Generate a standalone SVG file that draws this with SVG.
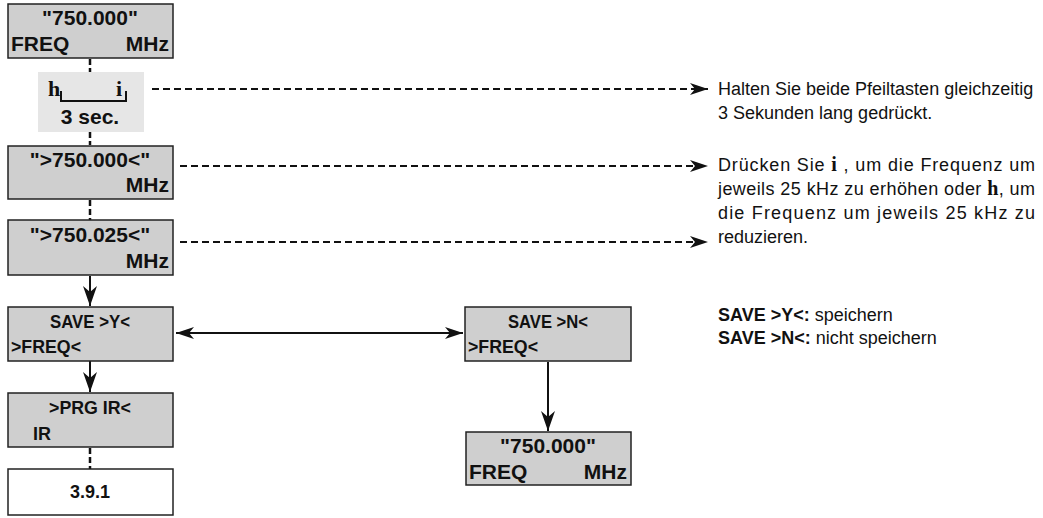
<svg xmlns="http://www.w3.org/2000/svg" width="1043" height="518" viewBox="0 0 1043 518">
<style>
.b{fill:#cfcfcf;stroke:#222;stroke-width:1.5}
.t{font-family:"Liberation Sans",Arial,sans-serif;font-weight:bold;font-size:21px;fill:#111}
.c{font-family:"Liberation Sans",Arial,sans-serif;font-weight:bold;font-size:18px;fill:#111}
.n{font-family:"Liberation Sans",Arial,sans-serif;font-size:18px;fill:#111}
.d{stroke:#111;stroke-width:2;stroke-dasharray:7,4;fill:none}
.v{stroke:#111;stroke-width:2.5;stroke-dasharray:6,3;fill:none}
.s{stroke:#111;stroke-width:2;fill:none}
</style>
<defs>
<marker id="A" markerWidth="18" markerHeight="12" refX="18" refY="6" orient="auto-start-reverse" markerUnits="userSpaceOnUse" viewBox="0 0 18 12"><path d="M0,0L18,6L0,12L5,6z" fill="#111"/></marker>
<marker id="V" markerWidth="14" markerHeight="20" refX="7" refY="20" orient="0" markerUnits="userSpaceOnUse" viewBox="0 0 14 20"><path d="M0,0L7,20L14,0L7,6z" fill="#111"/></marker></defs>
<g id="connectors">
<path class="v" d="M90,59V72M90,132V145M90,200V220M90,448V469"/>
<path class="s" d="M90,276V306" marker-end="url(#V)"/>
<path class="s" d="M90,361V392" marker-end="url(#V)"/>
<path class="s" d="M548,362V431" marker-end="url(#V)"/>
<path class="s" d="M176,333H463" marker-start="url(#A)" marker-end="url(#A)"/>
<path class="d" d="M152,89H708" marker-end="url(#A)"/>
<path class="d" d="M180,166H708" marker-end="url(#A)"/>
<path class="d" d="M180,242H708" marker-end="url(#A)"/>
</g>
<g id="n1"><rect class="b" x="8" y="4" width="165" height="54"/><text class="t" x="90" y="25" text-anchor="middle">"750.000"</text><text class="t" x="11" y="51">FREQ</text><text class="t" x="169" y="51" text-anchor="end">MHz</text></g>
<g id="key"><rect x="38" y="72" width="106" height="60" fill="#e6e6e6"/><text x="48" y="96" font-family="Liberation Serif,serif" font-weight="bold" font-size="22" fill="#111">h</text><text x="116" y="96" font-family="Liberation Serif,serif" font-weight="bold" font-size="22" fill="#111">i</text><path class="s" d="M61,91V101H126V91"/><text class="t" x="90" y="124" text-anchor="middle">3 sec.</text></g>
<g id="n3"><rect class="b" x="8" y="146" width="165" height="53"/><text class="t" x="90" y="167" text-anchor="middle">"&gt;750.000&lt;"</text><text class="t" x="169" y="192" text-anchor="end">MHz</text></g>
<g id="n4"><rect class="b" x="8" y="220" width="165" height="55"/><text class="t" x="90" y="242" text-anchor="middle">"&gt;750.025&lt;"</text><text class="t" x="169" y="268" text-anchor="end">MHz</text></g>
<g id="n5"><rect class="b" x="8" y="307" width="165" height="54"/><text class="c" x="90" y="328" text-anchor="middle" textLength="80" lengthAdjust="spacingAndGlyphs">SAVE &gt;Y&lt;</text><text class="c" x="11" y="353" textLength="70" lengthAdjust="spacingAndGlyphs">&gt;FREQ&lt;</text></g>
<g id="n6"><rect class="b" x="8" y="393" width="165" height="54"/><text class="c" x="90" y="414" text-anchor="middle" textLength="82" lengthAdjust="spacingAndGlyphs">&gt;PRG IR&lt;</text><text class="c" x="33" y="440">IR</text></g>
<g id="n7"><rect x="8" y="469" width="165" height="46" fill="#fff" stroke="#222" stroke-width="1.5"/><text class="c" x="90" y="498" text-anchor="middle" textLength="40" lengthAdjust="spacingAndGlyphs">3.9.1</text></g>
<g id="n8"><rect class="b" x="465" y="307" width="166" height="54"/><text class="c" x="548" y="328" text-anchor="middle" textLength="80" lengthAdjust="spacingAndGlyphs">SAVE &gt;N&lt;</text><text class="c" x="468" y="353" textLength="70" lengthAdjust="spacingAndGlyphs">&gt;FREQ&lt;</text></g>
<g id="n9"><rect class="b" x="466" y="432" width="165" height="53"/><text class="t" x="548" y="453" text-anchor="middle">"750.000"</text><text class="t" x="469" y="479">FREQ</text><text class="t" x="627" y="479" text-anchor="end">MHz</text></g>
<g id="notes">
<text class="n" x="718" y="95">Halten Sie beide Pfeiltasten gleichzeitig</text>
<text class="n" x="718" y="119">3 Sekunden lang gedrückt.</text>
<text class="n" x="718" y="171" textLength="317">Drücken Sie <tspan font-family="Liberation Serif,serif" font-weight="bold" font-size="20">i</tspan> , um die Frequenz um</text>
<text class="n" x="718" y="195" textLength="317">jeweils 25 kHz zu erhöhen oder <tspan font-family="Liberation Serif,serif" font-weight="bold" font-size="20">h</tspan>, um</text>
<text class="n" x="718" y="219" textLength="317">die Frequenz um jeweils 25 kHz zu</text>
<text class="n" x="718" y="243">reduzieren.</text>
<text class="n" x="718" y="321"><tspan font-weight="bold">SAVE &gt;Y&lt;:</tspan> speichern</text>
<text class="n" x="718" y="344"><tspan font-weight="bold">SAVE &gt;N&lt;:</tspan> nicht speichern</text>
</g>
</svg>
